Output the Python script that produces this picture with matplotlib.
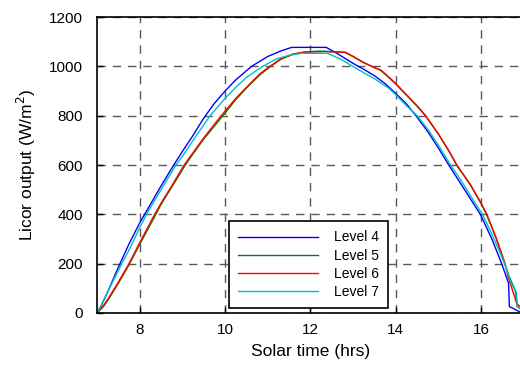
import matplotlib

matplotlib.use("Agg")
import matplotlib.pyplot as plt

plt.rcParams["font.family"] = ["Liberation Sans", "DejaVu Sans"]

# Licor readings per level (hrs, W/m^2)
t_l4 = [7.0, 7.1, 7.25, 7.5, 7.75, 8.0, 8.25, 8.5, 8.78, 9.0, 9.25, 9.5, 9.75,
        10.0, 10.25, 10.62, 11.0, 11.3, 11.56, 12.0, 12.37, 12.6, 13.0, 13.25, 13.5,
        13.75, 14.0, 14.25, 14.47, 14.75, 15.0, 15.24, 15.5, 15.75, 15.98, 16.25,
        16.48, 16.64, 16.66, 16.9]
v_l4 = [0, 30, 85, 185, 280, 365, 440, 515, 595, 655, 720, 790, 850,
        900, 945, 1000, 1040, 1062, 1077, 1077, 1077, 1055, 1012, 988, 962,
        930, 890, 848, 800, 735, 668, 600, 530, 462, 400, 300,
        200, 121, 26, 5]

t_l5 = [7.0, 7.15, 7.25, 7.5, 7.75, 8.0, 8.38, 8.5, 8.75, 9.07, 9.25, 9.5, 9.95,
        10.25, 10.5, 10.83, 11.07, 11.3, 11.6, 11.85, 12.2, 12.5, 12.8, 13.0, 13.25,
        13.5, 13.65, 13.83, 14.0, 14.25, 14.5, 14.7, 15.0, 15.25, 15.43, 15.75,
        16.0, 16.13, 16.35, 16.55, 16.65, 16.8, 16.84, 17.0]
v_l5 = [0, 25, 50, 120, 195, 278, 400, 440, 510, 600, 645, 705, 800,
        865, 912, 968, 1000, 1028, 1050, 1058, 1062, 1060, 1057, 1040, 1015,
        995, 983, 956, 928, 883, 838, 798, 725, 655, 598, 518,
        443, 398, 303, 200, 150, 90, 26, 8]

t_l6 = [7.0, 7.15, 7.25, 7.5, 7.75, 8.0, 8.35, 8.5, 8.75, 9.04, 9.25, 9.5, 9.91,
        10.25, 10.5, 10.83, 11.05, 11.3, 11.6, 11.83, 12.3, 12.83, 13.0, 13.25,
        13.5, 13.65, 13.83, 14.0, 14.25, 14.5, 14.7, 15.0, 15.25, 15.43, 15.75,
        16.0, 16.13, 16.35, 16.56, 16.63, 16.83, 17.0]
v_l6 = [0, 30, 55, 125, 200, 285, 400, 445, 515, 600, 650, 710, 800,
        870, 915, 972, 1000, 1030, 1050, 1057, 1060, 1057, 1040, 1015,
        995, 985, 958, 930, 885, 840, 800, 725, 655, 600, 520,
        445, 400, 305, 200, 147, 40, 10]

t_l7 = [7.0, 7.1, 7.25, 7.58, 7.75, 8.0, 8.16, 8.5, 8.85, 9.0, 9.25, 9.65, 10.0,
        10.25, 10.5, 10.88, 11.2, 11.5, 11.8, 12.4, 12.7, 13.14, 13.5, 13.83, 14.0,
        14.25, 14.5, 14.75, 15.0, 15.28, 15.5, 15.75, 16.03, 16.25, 16.55, 16.7,
        16.82, 16.85, 17.0]
v_l7 = [0, 30, 85, 200, 255, 345, 400, 500, 600, 635, 700, 800, 870,
        915, 955, 1000, 1030, 1045, 1053, 1053, 1030, 985, 950, 912, 885,
        840, 800, 745, 680, 600, 545, 475, 400, 320, 200, 120,
        85, 25, 5]

series = [
    ("Level 4", t_l4, v_l4, "#0000ff"),
    ("Level 5", t_l5, v_l5, "#008000"),
    ("Level 6", t_l6, v_l6, "#ff0000"),
    ("Level 7", t_l7, v_l7, "#00bfbf"),
]

fig = plt.figure(figsize=(5.2, 3.69), dpi=100)
ax = fig.add_axes([0.1865, 0.1518, 0.821, 0.802])

for name, t, v, col in series:
    ax.plot(t, v, color=col, lw=1.0, label=name)

ax.set_xlim(7, 17)
ax.set_ylim(0, 1200)
ax.set_xticks([8, 10, 12, 14, 16])
ax.set_yticks(range(0, 1201, 200))
ax.grid(True, color="0.35", linestyle=(0, (6, 5)), lw=1.0)
ax.tick_params(direction="in", length=4, labelsize=11, width=1)
ax.tick_params(axis="y", pad=10)
ax.tick_params(axis="x", pad=7)
for sp in ax.spines.values():
    sp.set_linewidth(1.2)

ax.set_xlabel("Solar time (hrs)", fontsize=12.5, labelpad=5)
ax.set_ylabel("Licor output (W/m$^2$)", fontsize=12.5, labelpad=8)

leg = ax.legend(loc="lower left", bbox_to_anchor=(0.309, 0.017), borderaxespad=0,
                fontsize=10, handlelength=5.75, handletextpad=1.2, labelspacing=0.3,
                borderpad=0.65, fancybox=False, framealpha=1, edgecolor="black")
leg.get_frame().set_linewidth(1.2)

fig.savefig("out.png", dpi=100)
